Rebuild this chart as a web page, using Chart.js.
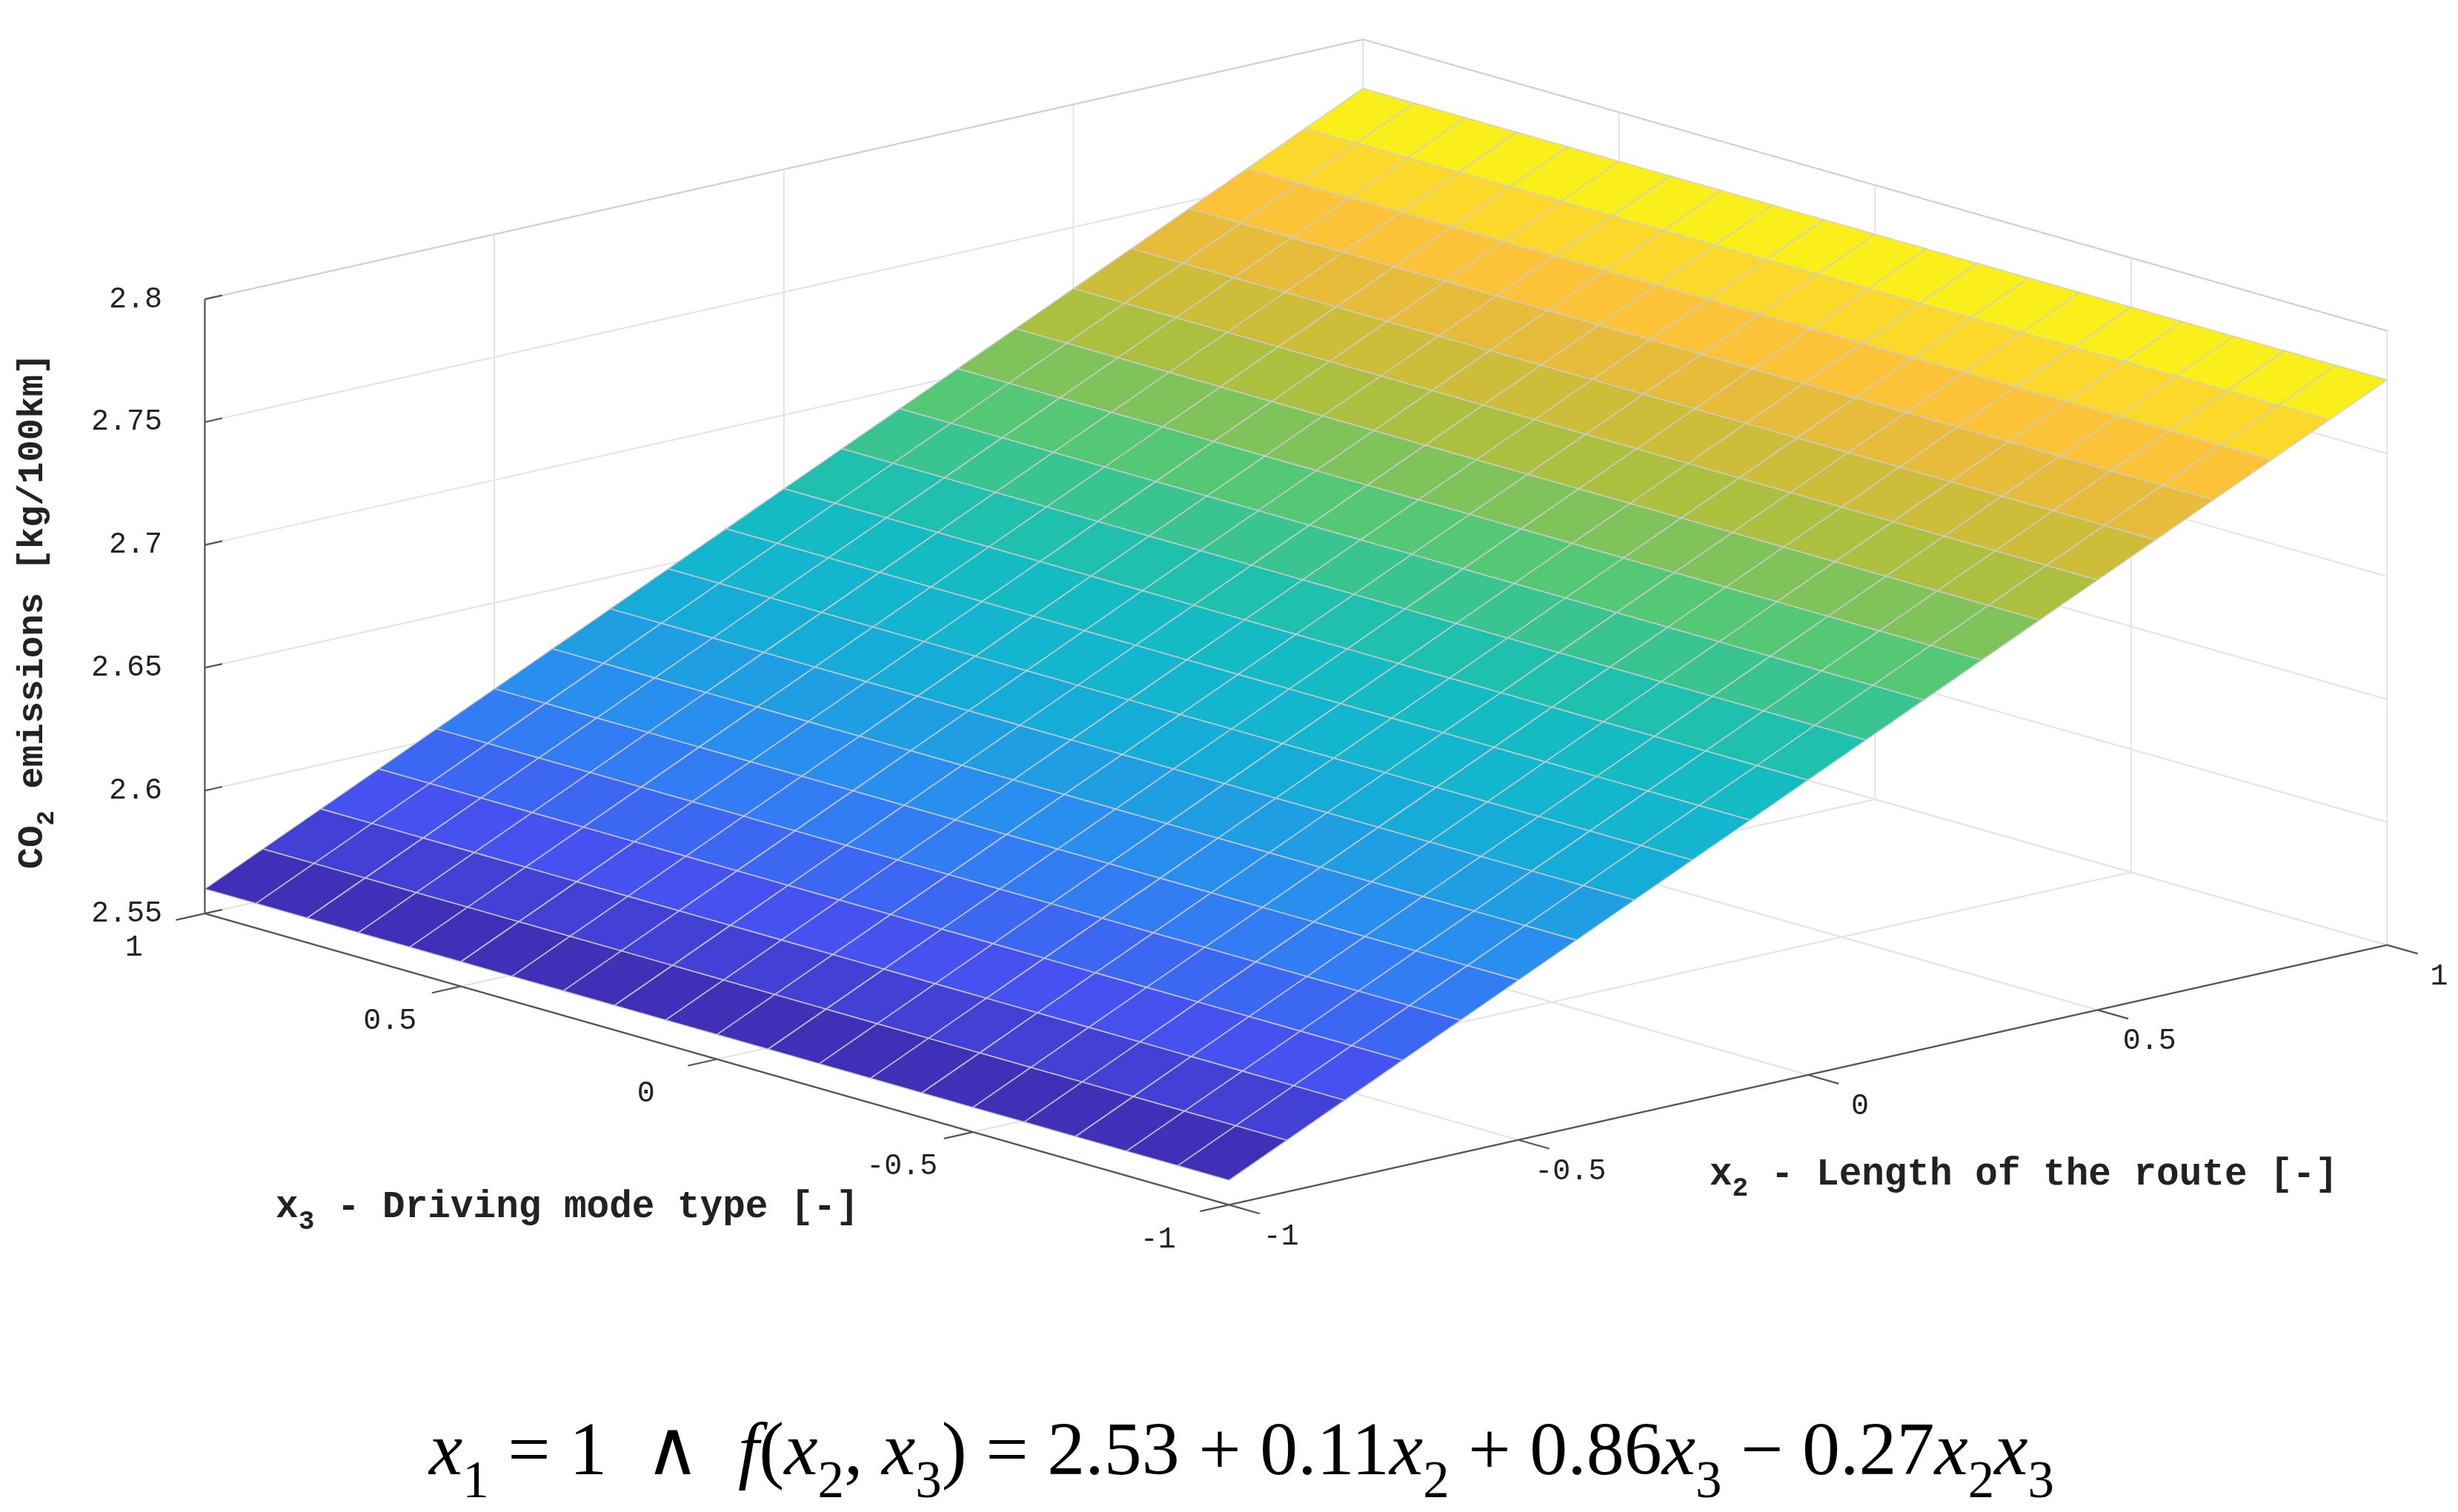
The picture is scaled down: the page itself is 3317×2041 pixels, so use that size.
<!DOCTYPE html>
<html lang="en">
<head>
<meta charset="UTF-8">
<title>CO2 emissions surface</title>
<script src="https://cdn.jsdelivr.net/npm/chart.js"></script>
<style>
    * { margin: 0; padding: 0; box-sizing: border-box; }
    body { background: #fff; }
    .wrap { width: 3317px; height: 2041px; position: relative; }
</style>
</head>
<body>
<div class="wrap"><canvas id="surf"></canvas></div>
<script>
// grid of the surface (x2 = length of route, x3 = driving mode)
const x2Grid = [-1, -0.9, -0.8, -0.7, -0.6, -0.5, -0.4, -0.3, -0.2, -0.1, 0, 0.1, 0.2, 0.3, 0.4, 0.5, 0.6, 0.7, 0.8, 0.9, 1];
const x3Grid = [-1, -0.9, -0.8, -0.7, -0.6, -0.5, -0.4, -0.3, -0.2, -0.1, 0, 0.1, 0.2, 0.3, 0.4, 0.5, 0.6, 0.7, 0.8, 0.9, 1];
// CO2 emission read along x2 (surface is flat along x3)
const zByX2 = [2.560, 2.571, 2.582, 2.593, 2.604, 2.615, 2.626, 2.637, 2.648, 2.659, 2.670,
               2.681, 2.692, 2.703, 2.714, 2.725, 2.736, 2.747, 2.758, 2.769, 2.780];
const x2Ticks = [-1, -0.5, 0, 0.5, 1];
const x3Ticks = [-1, -0.5, 0, 0.5, 1];
const zTicks = [2.55, 2.6, 2.65, 2.7, 2.75, 2.8];
const zTickLabels = ['2.55', '2.6', '2.65', '2.7', '2.75', '2.8'];
const zMin = 2.55, zMax = 2.8;

// parula colormap stops
const parula = [
    [0.00, [62, 38, 168]], [0.12, [70, 80, 240]], [0.25, [45, 135, 245]],
    [0.38, [20, 175, 215]], [0.50, [20, 190, 190]], [0.62, [80, 200, 120]],
    [0.74, [185, 190, 55]], [0.86, [252, 187, 60]], [1.00, [249, 250, 20]]
];
function cmap(t) {
    t = Math.max(0, Math.min(1, t));
    for (let i = 1; i < parula.length; i++) {
        if (t <= parula[i][0]) {
            const a = parula[i - 1], b = parula[i];
            const f = (t - a[0]) / (b[0] - a[0]);
            const c = a[1].map((v, k) => Math.round(v + (b[1][k] - v) * f));
            return `rgb(${c[0]},${c[1]},${c[2]})`;
        }
    }
    return 'rgb(249,250,20)';
}

// fixed MATLAB-like view, in reference units (1560 x 960)
function proj(x2, x3, z) {
    const a = (x2 + 1) / 2, b = (x3 + 1) / 2;
    return [780 + a * 735 - b * 650, 765 - a * 165 - b * 185 - (z - zMin) * 1560];
}

const surfacePlugin = {
    id: 'surface3d',
    afterDatasetsDraw(chart) {
        const ctx = chart.ctx;
        const sx = chart.scales.x, sy = chart.scales.y;
        const K = chart.width / 1560;
        const P = (x2, x3, z) => {
            const p = proj(x2, x3, z);
            return [sx.getPixelForValue(p[0]), sy.getPixelForValue(p[1])];
        };
        const line = (a, b, col, w) => {
            ctx.beginPath();
            ctx.moveTo(a[0], a[1]); ctx.lineTo(b[0], b[1]);
            ctx.strokeStyle = col; ctx.lineWidth = w; ctx.stroke();
        };
        ctx.save();
        const gridCol = '#e3e3e3', boxCol = '#d0d0d0';

        // back walls and floor grid
        zTicks.forEach(z => {
            line(P(-1, 1, z), P(1, 1, z), gridCol, 2);
            line(P(1, 1, z), P(1, -1, z), gridCol, 2);
        });
        x2Ticks.forEach(v => {
            line(P(v, 1, zMin), P(v, 1, zMax), gridCol, 2);
            line(P(v, -1, zMin), P(v, 1, zMin), gridCol, 2);
        });
        x3Ticks.forEach(v => {
            line(P(1, v, zMin), P(1, v, zMax), gridCol, 2);
            line(P(-1, v, zMin), P(1, v, zMin), gridCol, 2);
        });
        line(P(-1, 1, zMax), P(1, 1, zMax), boxCol, 2);
        line(P(1, 1, zMax), P(1, -1, zMax), boxCol, 2);

        // surface cells, back to front
        for (let j = x3Grid.length - 2; j >= 0; j--) {
            for (let i = x2Grid.length - 2; i >= 0; i--) {
                const zc = (zByX2[i] + zByX2[i + 1]) / 2;
                const pts = [
                    P(x2Grid[i], x3Grid[j], zByX2[i]),
                    P(x2Grid[i + 1], x3Grid[j], zByX2[i + 1]),
                    P(x2Grid[i + 1], x3Grid[j + 1], zByX2[i + 1]),
                    P(x2Grid[i], x3Grid[j + 1], zByX2[i])
                ];
                ctx.beginPath();
                pts.forEach((p, k) => k ? ctx.lineTo(p[0], p[1]) : ctx.moveTo(p[0], p[1]));
                ctx.closePath();
                ctx.fillStyle = cmap((zc - 2.56) / 0.22);
                ctx.fill();
                ctx.strokeStyle = 'rgba(205,205,205,0.85)';
                ctx.lineWidth = 1.6;
                ctx.stroke();
            }
        }

        // front axes
        const axCol = '#555';
        line(P(-1, -1, zMin), P(-1, 1, zMin), axCol, 2.2);
        line(P(-1, -1, zMin), P(1, -1, zMin), axCol, 2.2);
        line(P(-1, 1, zMin), P(-1, 1, zMax), axCol, 2.2);

        const mono = '"Liberation Mono", "DejaVu Sans Mono", monospace';
        ctx.fillStyle = '#222';
        ctx.font = `${Math.round(19 * K)}px ${mono}`;
        ctx.textAlign = 'center';
        ctx.textBaseline = 'middle';
        x3Ticks.forEach(v => {
            line(P(-1, v, zMin), P(-1.05, v, zMin), axCol, 2.2);
            const p = proj(-1, v, zMin);
            ctx.fillText(String(v), sx.getPixelForValue(p[0] - 45), sy.getPixelForValue(p[1] + 22));
        });
        x2Ticks.forEach(v => {
            line(P(v, -1, zMin), P(v, -1.06, zMin), axCol, 2.2);
            const p = proj(v, -1, zMin);
            ctx.fillText(String(v), sx.getPixelForValue(p[0] + 33), sy.getPixelForValue(p[1] + 20));
        });
        ctx.textAlign = 'right';
        zTicks.forEach((v, k) => {
            line(P(-1, 1, v), P(-0.97, 1, v), axCol, 2.2);
            const p = proj(-1, 1, v);
            ctx.fillText(zTickLabels[k], sx.getPixelForValue(p[0] - 27), sy.getPixelForValue(p[1]));
        });

        // text with subscripts / italics
        function setFont(s, size, family, bold) {
            const fs = s === 'sub' ? size * 0.7 : size;
            ctx.font = `${s === 'i' ? 'italic ' : ''}${bold ? 'bold ' : ''}${Math.round(fs)}px ${family}`;
        }
        function runs(parts, x, y, size, family, bold) {
            let cx = x;
            parts.forEach(([t, s]) => {
                setFont(s, size, family, bold);
                ctx.fillText(t, cx, s === 'sub' ? y + size * 0.3 : y);
                cx += ctx.measureText(t).width;
            });
        }
        function width(parts, size, family, bold) {
            let w = 0;
            parts.forEach(([t, s]) => { setFont(s, size, family, bold); w += ctx.measureText(t).width; });
            return w;
        }
        ctx.textAlign = 'left';
        ctx.textBaseline = 'alphabetic';
        runs([['x', ''], ['3', 'sub'], [' - Driving mode type [-]', '']],
            sx.getPixelForValue(175), sy.getPixelForValue(773), 24 * K, mono, true);
        runs([['x', ''], ['2', 'sub'], [' - Length of the route [-]', '']],
            sx.getPixelForValue(1085), sy.getPixelForValue(752), 24 * K, mono, true);

        const zl = [['CO', ''], ['2', 'sub'], [' emissions [kg/100km]', '']];
        ctx.save();
        ctx.translate(sx.getPixelForValue(27), sy.getPixelForValue(388));
        ctx.rotate(-Math.PI / 2);
        const zw = width(zl, 23 * K, mono, true);
        runs(zl, -zw / 2, 0, 23 * K, mono, true);
        ctx.restore();

        const serif = '"Liberation Serif", "DejaVu Serif", serif';
        const eq = [['x', 'i'], ['1', 'sub'], [' = 1  \u2227  ', ''], ['f', 'i'], ['(', ''], ['x', 'i'], ['2', 'sub'],
            [', ', ''], ['x', 'i'], ['3', 'sub'], [') = 2.53 + 0.11', ''], ['x', 'i'], ['2', 'sub'],
            [' + 0.86', ''], ['x', 'i'], ['3', 'sub'], [' \u2212 0.27', ''], ['x', 'i'], ['2', 'sub'], ['x', 'i'], ['3', 'sub']];
        const es = 48 * K;
        const ew = width(eq, es, serif, false);
        ctx.fillStyle = '#000';
        runs(eq, sx.getPixelForValue(788) - ew / 2, sy.getPixelForValue(936), es, serif, false);
        ctx.restore();
    }
};

new Chart(document.getElementById('surf'), {
    type: 'scatter',
    data: { datasets: [{ data: [], pointRadius: 0 }] },
    options: {
        responsive: true,
        maintainAspectRatio: false,
        animation: false,
        devicePixelRatio: 1,
        layout: { padding: 0 },
        plugins: { legend: { display: false }, tooltip: { enabled: false } },
        scales: {
            x: { type: 'linear', min: 0, max: 1560, display: false },
            y: { type: 'linear', min: 0, max: 960, reverse: true, display: false }
        }
    },
    plugins: [surfacePlugin]
});
</script>
</body>
</html>
